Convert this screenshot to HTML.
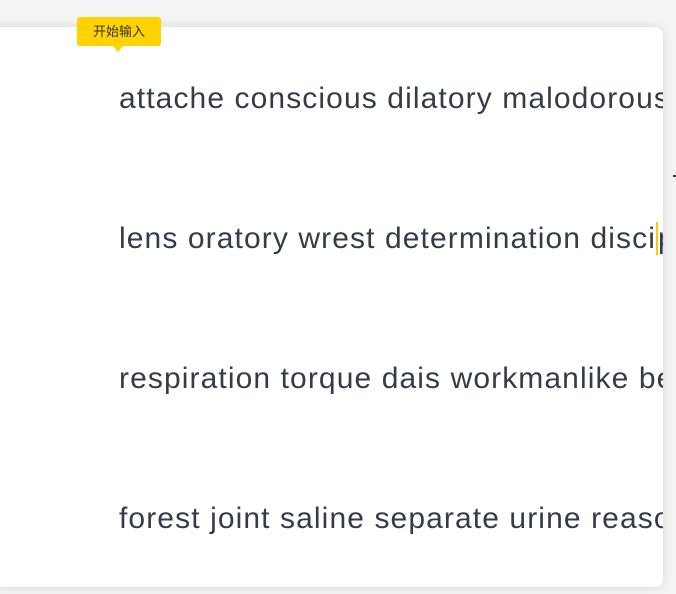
<!DOCTYPE html>
<html><head><meta charset="utf-8"><style>
html,body{margin:0;padding:0;width:676px;height:594px;overflow:hidden;background:#f4f4f4;font-family:"Liberation Sans","Noto Sans CJK SC",sans-serif}
.card{position:absolute;left:-10px;top:27px;width:673px;height:560px;background:#fff;border-radius:8px;box-shadow:0 0 10px rgba(0,0,0,0.12);overflow:hidden}
.line{position:absolute;left:129px;font-size:30px;color:#353b48;white-space:nowrap;letter-spacing:1.1px}
.tip{position:absolute;left:77px;top:17px;width:84px;height:29px;background:#ffd200;border-radius:3px;font-size:13px;color:#333;text-align:center;line-height:30px}
.tip:after{content:"";position:absolute;left:36px;top:29px;border:5px solid transparent;border-top:6px solid #ffd200}
.dot{position:absolute;left:673px;top:175px;width:3px;height:2px;background:#333}
</style></head><body>
<div class="card">
<div class="line" style="top:55px">attache conscious dilatory malodorous</div>
<div class="line" style="top:195px">lens oratory wrest determination disci<span style="border-left:2px solid #ffc800"></span>pline</div>
<div class="line" style="top:335px">respiration torque dais workmanlike berth</div>
<div class="line" style="top:475px">forest joint saline separate urine reason</div>
</div>
<div class="tip">开始输入</div>
<div class="dot"></div>
</body></html>
